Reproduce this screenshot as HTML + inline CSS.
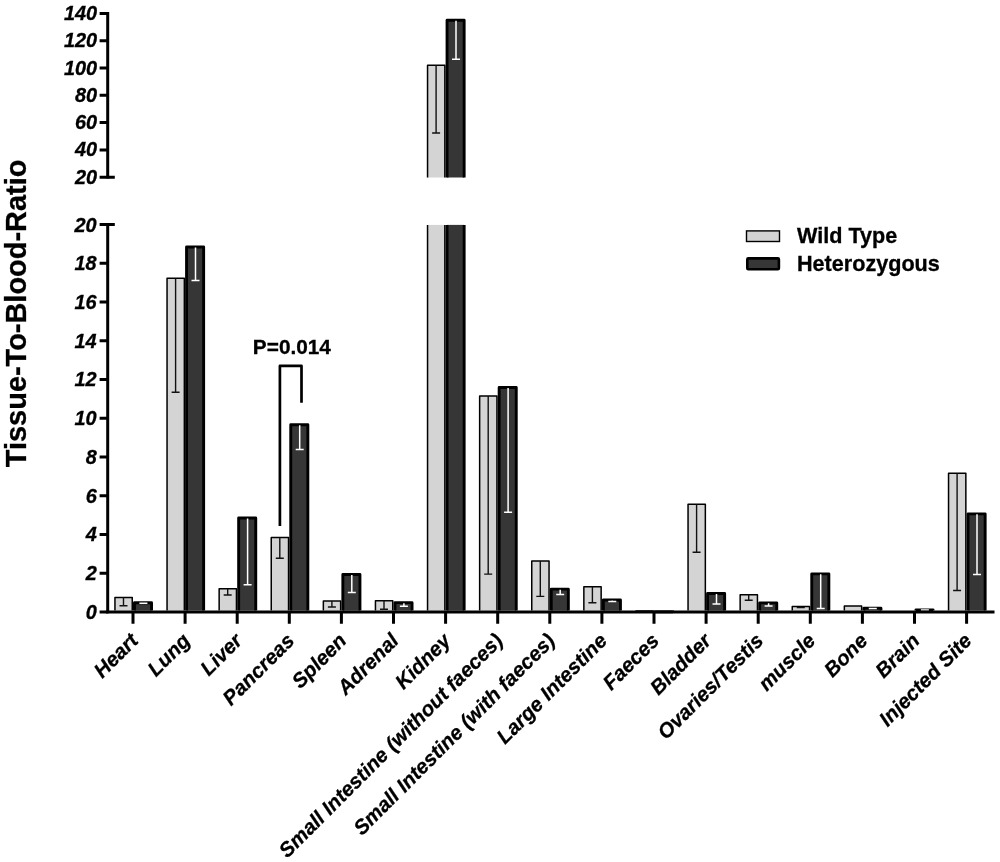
<!DOCTYPE html>
<html lang="en"><head><meta charset="utf-8"><title>Tissue-To-Blood-Ratio</title>
<style>html,body{margin:0;padding:0;background:#fff}svg{display:block}</style></head>
<body>
<svg width="1000" height="862" viewBox="0 0 1000 862">
<rect width="1000" height="862" fill="#fff"/>
<path d="M114.95 610.6V597.45H132.25V610.6" fill="#d4d4d4" stroke="#000" stroke-width="1.5" stroke-linejoin="round"/>
<path d="M123.50 597.45V605.80M119.50 605.80H127.50" stroke="#111" stroke-width="1.4" fill="none"/>
<path d="M134.45 610.6V602.75H151.55V610.6" fill="#363636" stroke="#000" stroke-width="2.9" stroke-linejoin="round"/>
<path d="M143.40 603.25V603.30M139.40 603.30H147.40" stroke="#fff" stroke-width="1.5" fill="none"/>
<path d="M167.05 610.6V278.15H184.35V610.6" fill="#d4d4d4" stroke="#000" stroke-width="1.5" stroke-linejoin="round"/>
<path d="M175.60 278.15V392.30M171.60 392.30H179.60" stroke="#111" stroke-width="1.4" fill="none"/>
<path d="M186.55 610.6V246.95H203.65V610.6" fill="#363636" stroke="#000" stroke-width="2.9" stroke-linejoin="round"/>
<path d="M195.50 247.45V280.50M191.50 280.50H199.50" stroke="#fff" stroke-width="1.5" fill="none"/>
<path d="M219.15 610.6V588.75H236.45V610.6" fill="#d4d4d4" stroke="#000" stroke-width="1.5" stroke-linejoin="round"/>
<path d="M227.70 588.75V595.00M223.70 595.00H231.70" stroke="#111" stroke-width="1.4" fill="none"/>
<path d="M238.65 610.6V517.95H255.75V610.6" fill="#363636" stroke="#000" stroke-width="2.9" stroke-linejoin="round"/>
<path d="M247.60 518.45V584.70M243.60 584.70H251.60" stroke="#fff" stroke-width="1.5" fill="none"/>
<path d="M271.25 610.6V537.45H288.55V610.6" fill="#d4d4d4" stroke="#000" stroke-width="1.5" stroke-linejoin="round"/>
<path d="M279.80 537.45V558.30M275.80 558.30H283.80" stroke="#111" stroke-width="1.4" fill="none"/>
<path d="M290.75 610.6V424.75H307.85V610.6" fill="#363636" stroke="#000" stroke-width="2.9" stroke-linejoin="round"/>
<path d="M299.70 425.25V449.40M295.70 449.40H303.70" stroke="#fff" stroke-width="1.5" fill="none"/>
<path d="M323.35 610.6V601.05H340.65V610.6" fill="#d4d4d4" stroke="#000" stroke-width="1.5" stroke-linejoin="round"/>
<path d="M331.90 601.05V607.00M327.90 607.00H335.90" stroke="#111" stroke-width="1.4" fill="none"/>
<path d="M342.85 610.6V574.45H359.95V610.6" fill="#363636" stroke="#000" stroke-width="2.9" stroke-linejoin="round"/>
<path d="M351.80 574.95V592.40M347.80 592.40H355.80" stroke="#fff" stroke-width="1.5" fill="none"/>
<path d="M375.45 610.6V600.85H392.75V610.6" fill="#d4d4d4" stroke="#000" stroke-width="1.5" stroke-linejoin="round"/>
<path d="M384.00 600.85V609.30M380.00 609.30H388.00" stroke="#111" stroke-width="1.4" fill="none"/>
<path d="M394.95 610.6V602.65H412.05V610.6" fill="#363636" stroke="#000" stroke-width="2.9" stroke-linejoin="round"/>
<path d="M403.90 603.15V606.30M399.90 606.30H407.90" stroke="#fff" stroke-width="1.5" fill="none"/>
<path d="M427.55 177.4V65.25H444.85V177.4" fill="#d4d4d4" stroke="#000" stroke-width="1.5" stroke-linejoin="round"/><rect x="427.55" y="224.9" width="17.30" height="385.70" fill="#d4d4d4"/><path d="M427.55 610.6V224.9M444.85 224.9V610.6" fill="none" stroke="#000" stroke-width="1.5"/>
<path d="M436.10 65.25V133.00M432.10 133.00H440.10" stroke="#111" stroke-width="1.4" fill="none"/>
<path d="M447.05 177.4V20.20H464.15V177.4" fill="#363636" stroke="#000" stroke-width="2.9" stroke-linejoin="round"/><rect x="447.05" y="224.9" width="17.10" height="385.70" fill="#363636"/><path d="M447.05 610.6V224.9M464.15 224.9V610.6" fill="none" stroke="#000" stroke-width="2.9"/>
<path d="M456.00 20.70V59.25M452.00 59.25H460.00" stroke="#fff" stroke-width="1.5" fill="none"/>
<path d="M479.65 610.6V396.05H496.95V610.6" fill="#d4d4d4" stroke="#000" stroke-width="1.5" stroke-linejoin="round"/>
<path d="M488.20 396.05V574.10M484.20 574.10H492.20" stroke="#111" stroke-width="1.4" fill="none"/>
<path d="M499.15 610.6V387.45H516.25V610.6" fill="#363636" stroke="#000" stroke-width="2.9" stroke-linejoin="round"/>
<path d="M508.10 387.95V512.30M504.10 512.30H512.10" stroke="#fff" stroke-width="1.5" fill="none"/>
<path d="M531.75 610.6V560.95H549.05V610.6" fill="#d4d4d4" stroke="#000" stroke-width="1.5" stroke-linejoin="round"/>
<path d="M540.30 560.95V596.40M536.30 596.40H544.30" stroke="#111" stroke-width="1.4" fill="none"/>
<path d="M551.25 610.6V589.15H568.35V610.6" fill="#363636" stroke="#000" stroke-width="2.9" stroke-linejoin="round"/>
<path d="M560.20 589.65V594.60M556.20 594.60H564.20" stroke="#fff" stroke-width="1.5" fill="none"/>
<path d="M583.85 610.6V586.65H601.15V610.6" fill="#d4d4d4" stroke="#000" stroke-width="1.5" stroke-linejoin="round"/>
<path d="M592.40 586.65V602.70M588.40 602.70H596.40" stroke="#111" stroke-width="1.4" fill="none"/>
<path d="M603.35 610.6V599.95H620.45V610.6" fill="#363636" stroke="#000" stroke-width="2.9" stroke-linejoin="round"/>
<path d="M612.30 600.45V601.50M608.30 601.50H616.30" stroke="#fff" stroke-width="1.5" fill="none"/>
<path d="M635.95 610.6V610.95H653.25V610.6" fill="#d4d4d4" stroke="#000" stroke-width="1.5" stroke-linejoin="round"/>
<path d="M655.45 610.6V611.85H672.55V610.6" fill="#363636" stroke="#000" stroke-width="2.9" stroke-linejoin="round"/>
<path d="M688.05 610.6V504.25H705.35V610.6" fill="#d4d4d4" stroke="#000" stroke-width="1.5" stroke-linejoin="round"/>
<path d="M696.60 504.25V552.20M692.60 552.20H700.60" stroke="#111" stroke-width="1.4" fill="none"/>
<path d="M707.55 610.6V593.55H724.65V610.6" fill="#363636" stroke="#000" stroke-width="2.9" stroke-linejoin="round"/>
<path d="M716.50 594.05V604.10M712.50 604.10H720.50" stroke="#fff" stroke-width="1.5" fill="none"/>
<path d="M740.15 610.6V594.75H757.45V610.6" fill="#d4d4d4" stroke="#000" stroke-width="1.5" stroke-linejoin="round"/>
<path d="M748.70 594.75V600.20M744.70 600.20H752.70" stroke="#111" stroke-width="1.4" fill="none"/>
<path d="M759.65 610.6V602.85H776.75V610.6" fill="#363636" stroke="#000" stroke-width="2.9" stroke-linejoin="round"/>
<path d="M768.60 603.35V606.00M764.60 606.00H772.60" stroke="#fff" stroke-width="1.5" fill="none"/>
<path d="M792.25 610.6V606.45H809.55V610.6" fill="#d4d4d4" stroke="#000" stroke-width="1.5" stroke-linejoin="round"/>
<path d="M800.80 606.45V607.60M796.80 607.60H804.80" stroke="#111" stroke-width="1.4" fill="none"/>
<path d="M811.75 610.6V573.85H828.85V610.6" fill="#363636" stroke="#000" stroke-width="2.9" stroke-linejoin="round"/>
<path d="M820.70 574.35V608.40M816.70 608.40H824.70" stroke="#fff" stroke-width="1.5" fill="none"/>
<path d="M844.35 610.6V606.05H861.65V610.6" fill="#d4d4d4" stroke="#000" stroke-width="1.5" stroke-linejoin="round"/>
<path d="M863.85 610.6V608.15H880.95V610.6" fill="#363636" stroke="#000" stroke-width="2.9" stroke-linejoin="round"/>
<path d="M872.80 608.65V608.50M868.80 608.50H876.80" stroke="#fff" stroke-width="1.5" fill="none"/>
<path d="M915.95 610.6V609.85H933.05V610.6" fill="#363636" stroke="#000" stroke-width="2.9" stroke-linejoin="round"/>
<path d="M924.90 610.35V609.90M920.90 609.90H928.90" stroke="#fff" stroke-width="1.5" fill="none"/>
<path d="M948.55 610.6V473.15H965.85V610.6" fill="#d4d4d4" stroke="#000" stroke-width="1.5" stroke-linejoin="round"/>
<path d="M957.10 473.15V590.50M953.10 590.50H961.10" stroke="#111" stroke-width="1.4" fill="none"/>
<path d="M968.05 610.6V513.85H985.15V610.6" fill="#363636" stroke="#000" stroke-width="2.9" stroke-linejoin="round"/>
<path d="M977.00 514.35V574.40M973.00 574.40H981.00" stroke="#fff" stroke-width="1.5" fill="none"/>
<path d="M107.7 12V178.6M107.7 223.2V613.2" stroke="#000" stroke-width="3" fill="none"/>
<path d="M106.2 612H994.5" stroke="#000" stroke-width="3" fill="none"/>
<text x="97.2" y="20.00" text-anchor="end" font-family="'Liberation Sans', Arial, Helvetica, sans-serif" stroke="#000" stroke-width="0.3" font-size="19.9" font-weight="bold" font-style="italic">140</text>
<text x="97.2" y="47.28" text-anchor="end" font-family="'Liberation Sans', Arial, Helvetica, sans-serif" stroke="#000" stroke-width="0.3" font-size="19.9" font-weight="bold" font-style="italic">120</text>
<text x="97.2" y="74.56" text-anchor="end" font-family="'Liberation Sans', Arial, Helvetica, sans-serif" stroke="#000" stroke-width="0.3" font-size="19.9" font-weight="bold" font-style="italic">100</text>
<text x="97.2" y="101.84" text-anchor="end" font-family="'Liberation Sans', Arial, Helvetica, sans-serif" stroke="#000" stroke-width="0.3" font-size="19.9" font-weight="bold" font-style="italic">80</text>
<text x="97.2" y="129.12" text-anchor="end" font-family="'Liberation Sans', Arial, Helvetica, sans-serif" stroke="#000" stroke-width="0.3" font-size="19.9" font-weight="bold" font-style="italic">60</text>
<text x="97.2" y="156.40" text-anchor="end" font-family="'Liberation Sans', Arial, Helvetica, sans-serif" stroke="#000" stroke-width="0.3" font-size="19.9" font-weight="bold" font-style="italic">40</text>
<text x="97.2" y="183.68" text-anchor="end" font-family="'Liberation Sans', Arial, Helvetica, sans-serif" stroke="#000" stroke-width="0.3" font-size="19.9" font-weight="bold" font-style="italic">20</text>
<text x="96.7" y="231.50" text-anchor="end" font-family="'Liberation Sans', Arial, Helvetica, sans-serif" stroke="#000" stroke-width="0.3" font-size="19.9" font-weight="bold" font-style="italic">20</text>
<text x="96.7" y="270.24" text-anchor="end" font-family="'Liberation Sans', Arial, Helvetica, sans-serif" stroke="#000" stroke-width="0.3" font-size="19.9" font-weight="bold" font-style="italic">18</text>
<text x="96.7" y="308.98" text-anchor="end" font-family="'Liberation Sans', Arial, Helvetica, sans-serif" stroke="#000" stroke-width="0.3" font-size="19.9" font-weight="bold" font-style="italic">16</text>
<text x="96.7" y="347.72" text-anchor="end" font-family="'Liberation Sans', Arial, Helvetica, sans-serif" stroke="#000" stroke-width="0.3" font-size="19.9" font-weight="bold" font-style="italic">14</text>
<text x="96.7" y="386.46" text-anchor="end" font-family="'Liberation Sans', Arial, Helvetica, sans-serif" stroke="#000" stroke-width="0.3" font-size="19.9" font-weight="bold" font-style="italic">12</text>
<text x="96.7" y="425.20" text-anchor="end" font-family="'Liberation Sans', Arial, Helvetica, sans-serif" stroke="#000" stroke-width="0.3" font-size="19.9" font-weight="bold" font-style="italic">10</text>
<text x="96.7" y="463.94" text-anchor="end" font-family="'Liberation Sans', Arial, Helvetica, sans-serif" stroke="#000" stroke-width="0.3" font-size="19.9" font-weight="bold" font-style="italic">8</text>
<text x="96.7" y="502.68" text-anchor="end" font-family="'Liberation Sans', Arial, Helvetica, sans-serif" stroke="#000" stroke-width="0.3" font-size="19.9" font-weight="bold" font-style="italic">6</text>
<text x="96.7" y="541.42" text-anchor="end" font-family="'Liberation Sans', Arial, Helvetica, sans-serif" stroke="#000" stroke-width="0.3" font-size="19.9" font-weight="bold" font-style="italic">4</text>
<text x="96.7" y="580.16" text-anchor="end" font-family="'Liberation Sans', Arial, Helvetica, sans-serif" stroke="#000" stroke-width="0.3" font-size="19.9" font-weight="bold" font-style="italic">2</text>
<text x="96.7" y="618.90" text-anchor="end" font-family="'Liberation Sans', Arial, Helvetica, sans-serif" stroke="#000" stroke-width="0.3" font-size="19.9" font-weight="bold" font-style="italic">0</text>
<path d="M99.6 13.50H107.7M99.6 40.78H107.7M99.6 68.06H107.7M99.6 95.34H107.7M99.6 122.62H107.7M99.6 149.90H107.7M99.6 177.18H114.8M99.6 224.60H114.8M99.6 263.34H107.7M99.6 302.08H107.7M99.6 340.82H107.7M99.6 379.56H107.7M99.6 418.30H107.7M99.6 457.04H107.7M99.6 495.78H107.7M99.6 534.52H107.7M99.6 573.26H107.7M99.6 612.00H107.7" stroke="#000" stroke-width="3" fill="none"/>
<text transform="translate(139.30,642.0) rotate(-45)" text-anchor="end" font-family="'Liberation Sans', Arial, Helvetica, sans-serif" stroke="#000" stroke-width="0.3" font-size="20.5" font-weight="bold" font-style="italic">Heart</text>
<text transform="translate(191.40,642.0) rotate(-45)" text-anchor="end" font-family="'Liberation Sans', Arial, Helvetica, sans-serif" stroke="#000" stroke-width="0.3" font-size="20.5" font-weight="bold" font-style="italic">Lung</text>
<text transform="translate(243.50,642.0) rotate(-45)" text-anchor="end" font-family="'Liberation Sans', Arial, Helvetica, sans-serif" stroke="#000" stroke-width="0.3" font-size="20.5" font-weight="bold" font-style="italic">Liver</text>
<text transform="translate(295.60,642.0) rotate(-45)" text-anchor="end" font-family="'Liberation Sans', Arial, Helvetica, sans-serif" stroke="#000" stroke-width="0.3" font-size="20.5" font-weight="bold" font-style="italic">Pancreas</text>
<text transform="translate(347.70,642.0) rotate(-45)" text-anchor="end" font-family="'Liberation Sans', Arial, Helvetica, sans-serif" stroke="#000" stroke-width="0.3" font-size="20.5" font-weight="bold" font-style="italic">Spleen</text>
<text transform="translate(399.80,642.0) rotate(-45)" text-anchor="end" font-family="'Liberation Sans', Arial, Helvetica, sans-serif" stroke="#000" stroke-width="0.3" font-size="20.5" font-weight="bold" font-style="italic">Adrenal</text>
<text transform="translate(451.90,642.0) rotate(-45)" text-anchor="end" font-family="'Liberation Sans', Arial, Helvetica, sans-serif" stroke="#000" stroke-width="0.3" font-size="20.5" font-weight="bold" font-style="italic">Kidney</text>
<text transform="translate(504.00,642.0) rotate(-45)" text-anchor="end" font-family="'Liberation Sans', Arial, Helvetica, sans-serif" stroke="#000" stroke-width="0.3" font-size="20.5" font-weight="bold" font-style="italic">Small Intestine (without faeces)</text>
<text transform="translate(556.10,642.0) rotate(-45)" text-anchor="end" font-family="'Liberation Sans', Arial, Helvetica, sans-serif" stroke="#000" stroke-width="0.3" font-size="20.5" font-weight="bold" font-style="italic">Small Intestine (with faeces)</text>
<text transform="translate(608.20,642.0) rotate(-45)" text-anchor="end" font-family="'Liberation Sans', Arial, Helvetica, sans-serif" stroke="#000" stroke-width="0.3" font-size="20.5" font-weight="bold" font-style="italic">Large Intestine</text>
<text transform="translate(660.30,642.0) rotate(-45)" text-anchor="end" font-family="'Liberation Sans', Arial, Helvetica, sans-serif" stroke="#000" stroke-width="0.3" font-size="20.5" font-weight="bold" font-style="italic">Faeces</text>
<text transform="translate(712.40,642.0) rotate(-45)" text-anchor="end" font-family="'Liberation Sans', Arial, Helvetica, sans-serif" stroke="#000" stroke-width="0.3" font-size="20.5" font-weight="bold" font-style="italic">Bladder</text>
<text transform="translate(764.50,642.0) rotate(-45)" text-anchor="end" font-family="'Liberation Sans', Arial, Helvetica, sans-serif" stroke="#000" stroke-width="0.3" font-size="20.5" font-weight="bold" font-style="italic">Ovaries/Testis</text>
<text transform="translate(816.60,642.0) rotate(-45)" text-anchor="end" font-family="'Liberation Sans', Arial, Helvetica, sans-serif" stroke="#000" stroke-width="0.3" font-size="20.5" font-weight="bold" font-style="italic">muscle</text>
<text transform="translate(868.70,642.0) rotate(-45)" text-anchor="end" font-family="'Liberation Sans', Arial, Helvetica, sans-serif" stroke="#000" stroke-width="0.3" font-size="20.5" font-weight="bold" font-style="italic">Bone</text>
<text transform="translate(920.80,642.0) rotate(-45)" text-anchor="end" font-family="'Liberation Sans', Arial, Helvetica, sans-serif" stroke="#000" stroke-width="0.3" font-size="20.5" font-weight="bold" font-style="italic">Brain</text>
<text transform="translate(972.90,642.0) rotate(-45)" text-anchor="end" font-family="'Liberation Sans', Arial, Helvetica, sans-serif" stroke="#000" stroke-width="0.3" font-size="20.5" font-weight="bold" font-style="italic">Injected Site</text>
<path d="M133.00 612V623.7M185.10 612V623.7M237.20 612V623.7M289.30 612V623.7M341.40 612V623.7M393.50 612V623.7M445.60 612V623.7M497.70 612V623.7M549.80 612V623.7M601.90 612V623.7M654.00 612V623.7M706.10 612V623.7M758.20 612V623.7M810.30 612V623.7M862.40 612V623.7M914.50 612V623.7M966.60 612V623.7" stroke="#000" stroke-width="3" fill="none"/>
<text transform="translate(26.4,313.4) rotate(-90)" text-anchor="middle" font-family="'Liberation Sans', Arial, Helvetica, sans-serif" stroke="#000" stroke-width="0.3" font-size="28.95" font-weight="bold">Tissue-To-Blood-Ratio</text>
<path d="M279.9 526V365.9H301.5V402.7" stroke="#000" stroke-width="2.7" stroke-linejoin="round" fill="none"/>
<text x="291.9" y="354.2" text-anchor="middle" font-family="'Liberation Sans', Arial, Helvetica, sans-serif" stroke="#000" stroke-width="0.3" font-size="20.8" font-weight="bold">P=0.014</text>
<rect x="746.5" y="230.9" width="33" height="10.6" fill="#d4d4d4" stroke="#000" stroke-width="1.4"/>
<rect x="747.3" y="258.4" width="31.6" height="10.8" rx="1" fill="#363636" stroke="#000" stroke-width="2.6" stroke-linejoin="round"/>
<text x="797" y="242.5" font-family="'Liberation Sans', Arial, Helvetica, sans-serif" stroke="#000" stroke-width="0.3" font-size="21.6" font-weight="bold">Wild Type</text>
<text x="797" y="270.8" font-family="'Liberation Sans', Arial, Helvetica, sans-serif" stroke="#000" stroke-width="0.3" font-size="21.6" font-weight="bold">Heterozygous</text>
</svg>
</body></html>
